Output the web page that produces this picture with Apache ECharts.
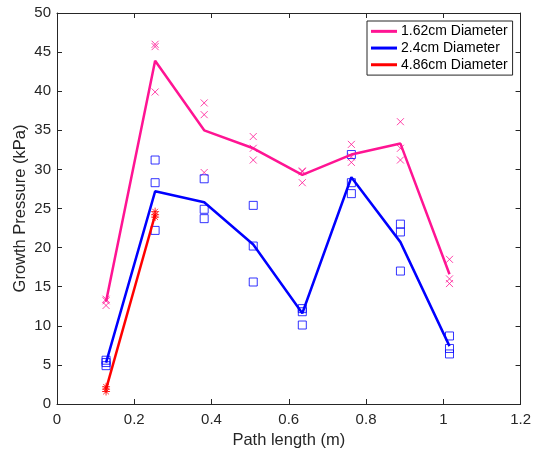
<!DOCTYPE html>
<html>
<head>
<meta charset="utf-8">
<script src="https://cdn.jsdelivr.net/npm/echarts@6/dist/echarts.min.js"></script>
<style>
  html, body { margin: 0; padding: 0; background: #fff; }
  #main { width: 534px; height: 454px; }
</style>
</head>
<body>
<div id="main"></div>
<script>
// path lengths (m)
var pathLength = [0.127, 0.254, 0.381, 0.508, 0.635, 0.762, 0.889, 1.016];
var redPathLength = [0.127, 0.254];

// raw measurements, three per path length
var small = [[13.4, 13.2, 12.6], [46.0, 45.7, 39.9], [38.5, 37.0, 29.6], [34.2, 32.7, 31.2],
             [29.8, 29.7, 28.3], [33.2, 31.6, 30.9], [36.1, 32.7, 31.2], [18.5, 16.0, 15.4]];
var medium = [[5.6, 5.3, 4.9], [31.2, 28.3, 22.2], [28.8, 24.9, 23.7], [25.4, 20.2, 15.6],
              [12.2, 11.8, 10.1], [31.9, 28.3, 26.9], [23.0, 22.0, 17.0], [8.7, 7.1, 6.4]];
var large = [[2.2, 1.9, 1.6], [24.6, 24.2, 23.9]];

// mean lines
var smallMean = [13.1, 43.9, 35.0, 32.7, 29.3, 31.9, 33.3, 16.6];
var mediumMean = [5.3, 27.2, 25.8, 20.4, 11.6, 29.0, 20.7, 7.4];
var largeMean = [1.9, 24.2];

var names = ['1.62cm Diameter', '2.4cm Diameter', '4.86cm Diameter'];
var pink = '#ff1493', blue = '#0000ff', red = '#ff0000';
var ink = '#262626';
var font = 'Liberation Sans, Arial, sans-serif';

function points(xs, raw) {
    var out = [];
    xs.forEach(function (x, i) {
        raw[i].forEach(function (v) { out.push([x, v]); });
    });
    return out;
}
function pairs(xs, ys) {
    return xs.map(function (x, i) { return [x, ys[i]]; });
}

var crossSym = 'path://M0,0L10,10M10,0L0,10';
var starSym = 'path://M5,0L5,10M0,5L10,5M1.5,1.5L8.5,8.5M8.5,1.5L1.5,8.5';

var chart = echarts.init(document.getElementById('main'), null, { renderer: 'canvas' });

var tickStyle = { show: true, inside: true, length: 5, lineStyle: { color: ink, width: 1 } };

var option = {
    backgroundColor: '#ffffff',
    animation: false,
    textStyle: { fontFamily: font },
    grid: { left: 57, right: 12, top: 13, bottom: 50 },
    legend: {
        data: names,
        orient: 'vertical',
        left: 367,
        top: 21,
        padding: [2, 5, 2, 4],
        itemGap: 0,
        itemWidth: 26,
        itemHeight: 3,
        icon: 'rect',
        borderColor: ink,
        borderWidth: 1,
        backgroundColor: '#fff',
        textStyle: { fontSize: 14, color: '#000', fontFamily: font, padding: [0, 0, 0, -1], lineHeight: 16.7 }
    },
    xAxis: [{
        type: 'value',
        min: 0, max: 1.2, interval: 0.2,
        name: 'Path length (m)',
        nameLocation: 'middle',
        nameGap: 28,
        nameMoveOverlap: false,
        nameTextStyle: { fontSize: 16.5, color: ink, fontFamily: font },
        axisLine: { show: true, onZero: false, lineStyle: { color: ink } },
        axisTick: tickStyle,
        axisLabel: { fontSize: 15, color: ink, margin: 8, fontFamily: font },
        splitLine: { show: false }
    }, {
        type: 'value', position: 'top',
        min: 0, max: 1.2, interval: 0.2,
        axisLine: { show: true, onZero: false, lineStyle: { color: ink } },
        axisTick: tickStyle,
        axisLabel: { show: false },
        splitLine: { show: false }
    }],
    yAxis: [{
        type: 'value',
        min: 0, max: 50, interval: 5,
        name: 'Growth Pressure (kPa)',
        nameLocation: 'middle',
        nameGap: 28,
        nameMoveOverlap: false,
        nameTextStyle: { fontSize: 16.5, color: ink, fontFamily: font },
        axisLine: { show: true, onZero: false, lineStyle: { color: ink } },
        axisTick: tickStyle,
        axisLabel: { fontSize: 15, color: ink, margin: 6, fontFamily: font },
        splitLine: { show: false }
    }, {
        type: 'value', position: 'right',
        min: 0, max: 50, interval: 5,
        axisLine: { show: true, onZero: false, lineStyle: { color: ink } },
        axisTick: tickStyle,
        axisLabel: { show: false },
        splitLine: { show: false }
    }],
    series: [
        {
            name: 'small raw', type: 'scatter', data: points(pathLength, small),
            symbol: crossSym, symbolSize: 7,
            itemStyle: { color: 'none', borderColor: pink, borderWidth: 1 }
        },
        {
            name: 'medium raw', type: 'scatter', data: points(pathLength, medium),
            symbol: 'rect', symbolSize: 8,
            itemStyle: { color: 'none', borderColor: blue, borderWidth: 1 }
        },
        {
            name: 'large raw', type: 'scatter', data: points(redPathLength, large),
            symbol: starSym, symbolSize: 8,
            itemStyle: { color: 'none', borderColor: red, borderWidth: 1 }
        },
        {
            name: names[0], type: 'line', data: pairs(pathLength, smallMean),
            showSymbol: false, symbol: 'none', color: pink,
            lineStyle: { color: pink, width: 2.5 }
        },
        {
            name: names[1], type: 'line', data: pairs(pathLength, mediumMean),
            showSymbol: false, symbol: 'none', color: blue,
            lineStyle: { color: blue, width: 2.5 }
        },
        {
            name: names[2], type: 'line', data: pairs(redPathLength, largeMean),
            showSymbol: false, symbol: 'none', color: red,
            lineStyle: { color: red, width: 2.5 }
        }
    ]
};

chart.setOption(option);
</script>
</body>
</html>
